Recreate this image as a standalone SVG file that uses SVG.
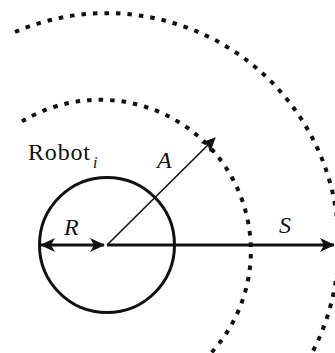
<svg xmlns="http://www.w3.org/2000/svg" width="335" height="353" viewBox="0 0 335 353">
<style>
.lbl{font-family:"Liberation Serif","Times New Roman",serif;font-size:24px;fill:#111}
.it{font-style:italic}
.dot{fill:none;stroke:#111;stroke-width:4;stroke-dasharray:4.5 7}
.thick{stroke:#111;stroke-width:3}
.thin{stroke:#111;stroke-width:1.6}
</style>
<defs>
<marker id="ah" markerUnits="userSpaceOnUse" markerWidth="16" markerHeight="14" refX="14" refY="7" orient="auto-start-reverse" viewBox="0 0 16 14">
<path d="M0,0 L15,7 L0,14 L4,7 Z" fill="#111"/>
</marker>
<marker id="ah2" markerUnits="userSpaceOnUse" markerWidth="16" markerHeight="14" refX="14" refY="7" orient="auto" viewBox="0 0 16 14">
<path d="M0,0 L15,7 L0,14 L4,7 Z" fill="#111"/>
</marker>
</defs>
<g id="ranges">
<path class="dot" d="M22,121.4 A151,151 0 0 1 211,353"/>
<path class="dot" d="M15,32 A232,232 0 0 1 312,353"/>
</g>
<g id="robot">
<circle cx="107" cy="245" r="67.5" fill="none" stroke="#111" stroke-width="3"/>
<text class="lbl" x="28" y="160" textLength="62">Robot</text>
<text class="lbl it" font-size="16" style="font-size:16px" x="93" y="168">i</text>
</g>
<g id="connectors">
<line class="thick" x1="41" y1="245" x2="104" y2="245" marker-start="url(#ah)" marker-end="url(#ah)"/>
<line class="thick" x1="107" y1="245" x2="334" y2="245" marker-end="url(#ah2)"/>
<line class="thin" x1="107" y1="245" x2="215" y2="138" marker-end="url(#ah2)"/>
</g>
<g id="labels">
<text class="lbl it" x="157" y="168">A</text>
<text class="lbl it" x="64" y="235">R</text>
<text class="lbl it" x="279" y="233">S</text>
</g>
</svg>
